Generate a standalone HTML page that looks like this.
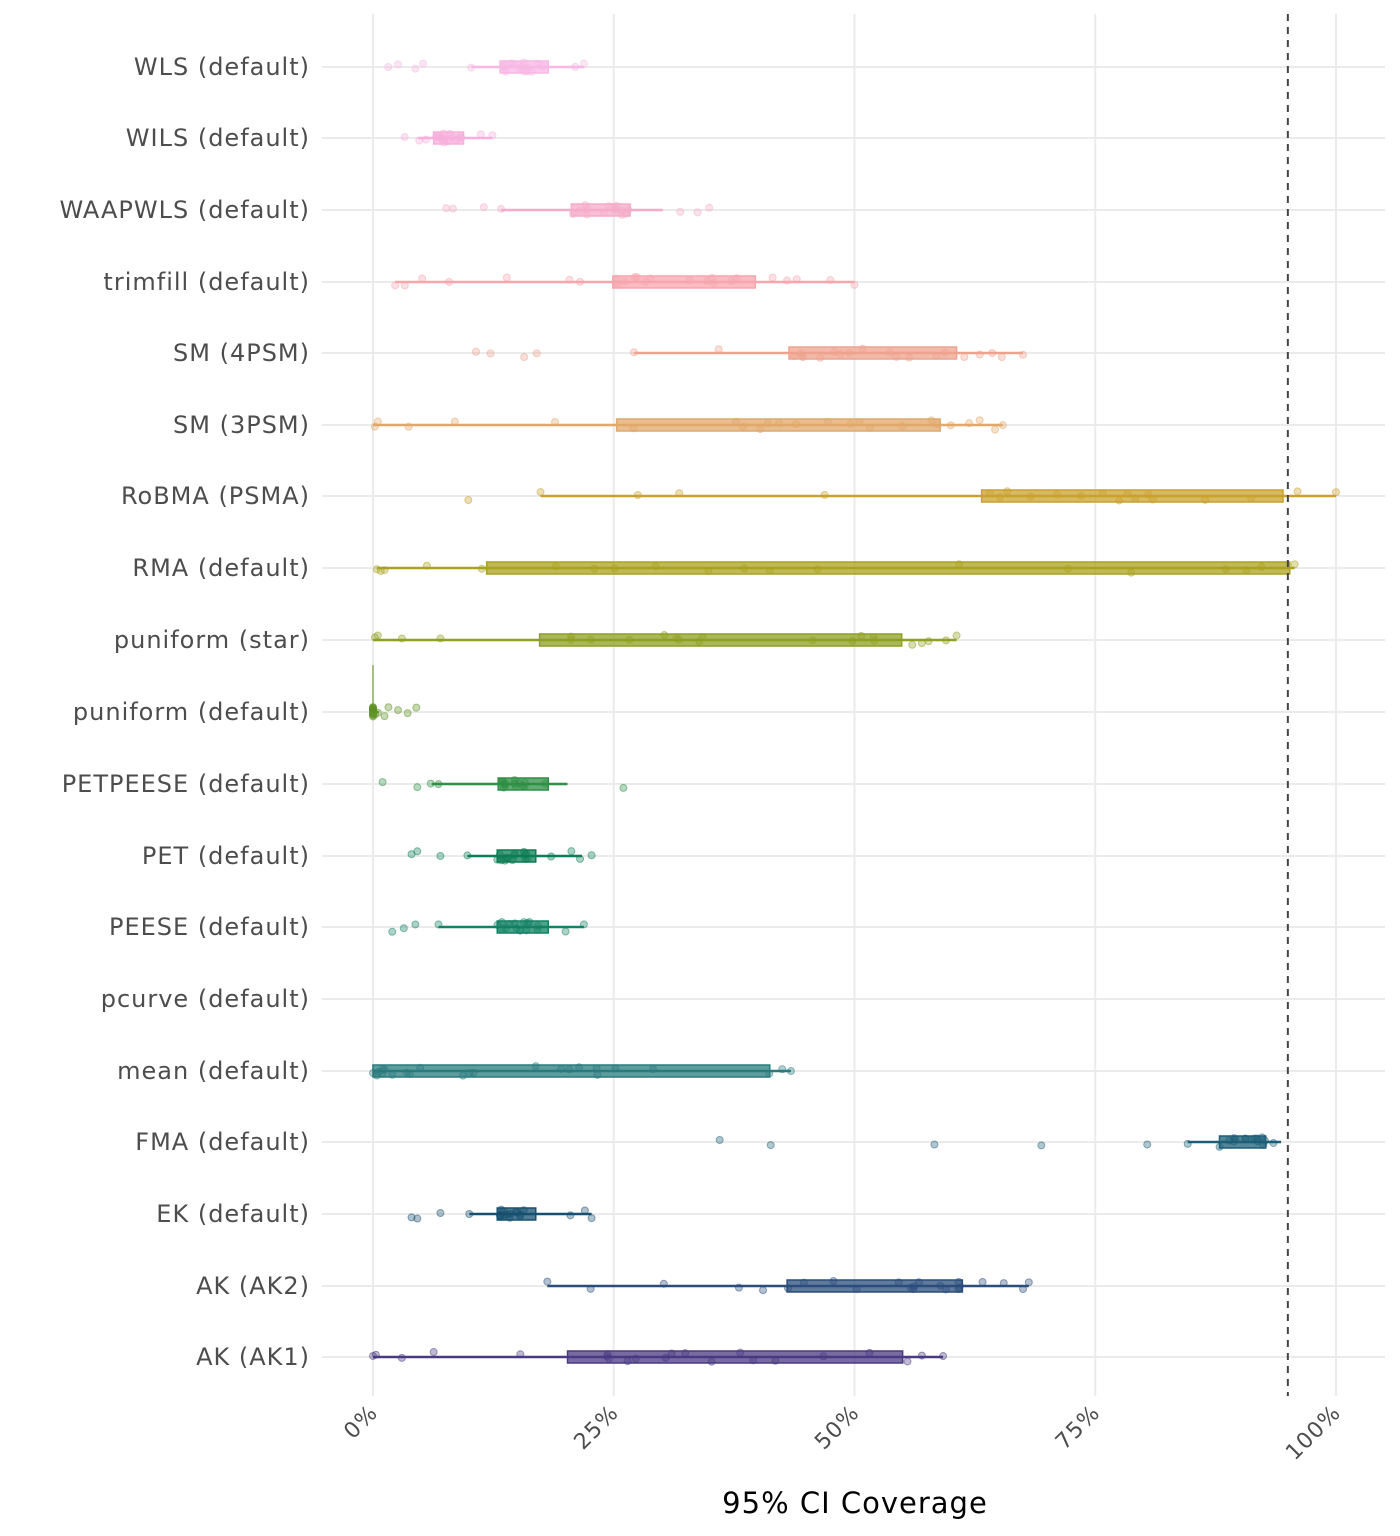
<!DOCTYPE html>
<html><head><meta charset="utf-8"><style>
html,body{margin:0;padding:0;background:#fff;}
svg{display:block;font-family:"DejaVu Sans","Liberation Sans",sans-serif;}
</style></head><body>
<svg id="s" width="1400" height="1536" xmlns="http://www.w3.org/2000/svg"></svg>
<script>
const X=p=>373+p*9.63;
const rows=[
["WLS (default)",67,"#f7b8e4",10.2,13.2,18.2,21.9,[1.6,2.6,4.4,5.2,10.2,21,21.9]],
["WILS (default)",138,"#f7b0dc",4.7,6.3,9.4,12.4,[3.3,4.8,5.5,11.2,12.4]],
["WAAPWLS (default)",210,"#f6abc8",13.3,20.6,26.7,30.1,[7.6,8.3,11.5,13.3,31.9,33.7,34.9]],
["trimfill (default)",282,"#f7a5ae",2.3,24.9,39.7,50,[2.3,3.3,5.1,7.9,13.9,20.4,21.5,41.5,43,44,47.5,50]],
["SM (4PSM)",353,"#eea38f",27.1,43.2,60.6,67.5,[10.7,12.2,15.7,17,27.1,35.9,61.4,63,64.3,65.3,67.5]],
["SM (3PSM)",425,"#e0a86b",0,25.3,58.9,65.4,[0.2,0.5,3.7,8.5,18.9,60,61.9,63,64.6,65.4]],
["RoBMA (PSMA)",496,"#caa12e",17.4,63.2,94.5,100,[9.9,17.4,27.5,31.8,46.9,96,100]],
["RMA (default)",568,"#aaa21f",0.4,11.8,95.2,95.7,[0.4,0.8,1.2,5.6,11.3,95.7]],
["puniform (star)",640,"#8fa022",0,17.3,54.9,60.6,[0.2,0.5,3,7,56,57,57.7,59.5,60.6]],
["puniform (default)",712,"#5e9325",0,0,0,0.6,[0,0.2,0.5,1.2,1.6,2.6,3.6,4.5]],
["PETPEESE (default)",784,"#2f8f45",6.1,13,18.2,20.2,[1,4.6,6,6.8,26]],
["PET (default)",856,"#0d7d55",9.8,12.9,16.9,21.7,[4,4.6,7,9.8,18.5,20.6,21.5,22.7]],
["PEESE (default)",927,"#148263",6.8,12.9,18.2,21.9,[2,3.2,4.4,6.8,20,21.9]],
["pcurve (default)",999,null],
["mean (default)",1071,"#2a7b7e",0,0,41.2,43.4,[0,0.4,1,2,3.5,10,16.9,21.4,42.5,43.4]],
["FMA (default)",1142,"#1d5f77",84.6,87.9,92.7,94.3,[36,41.3,58.3,69.4,80.4,84.6,93.5]],
["EK (default)",1214,"#175070",10,12.9,16.9,22.7,[4,4.6,7,10,20.5,22,22.7]],
["AK (AK2)",1286,"#2b4d7b",18.1,43,61.2,68.1,[18.1,22.6,30.2,38,40.5,63.3,65.5,67.5,68.1]],
["AK (AK1)",1357,"#4a3a81",0,20.2,55,59.2,[0,0.3,3,6.3,15.3,55.5,57,59.2]]
];
let h='<rect x="0" y="0" width="1400" height="1536" fill="#fff"/>';
rows.forEach(r=>h+=`<line x1="322" x2="1385" y1="${r[1]}" y2="${r[1]}" stroke="#ebebeb" stroke-width="2"/>`);
[0,25,50,75,100].forEach(p=>h+=`<line x1="${X(p)}" x2="${X(p)}" y1="14" y2="1396" stroke="#ebebeb" stroke-width="2"/>`);
let seed=7;const rnd=()=>{seed=(seed*9301+49297)%233280;return seed/233280;};
rows.forEach(r=>{
 const y=r[1];
 h+=`<text x="310" y="${y+8}" text-anchor="end" font-size="24" letter-spacing="1" fill="#4d4d4d">${r[0]}</text>`;
 if(!r[2])return;
 const c=r[2];
 h+=`<line x1="${X(r[3])}" x2="${X(r[6])}" y1="${y}" y2="${y}" stroke="${c}" stroke-width="2.5"/>`;
 if(r[5]>r[4]) h+=`<rect x="${X(r[4])}" y="${y-6}" width="${X(r[5])-X(r[4])}" height="12" fill="${c}" fill-opacity="0.75" stroke="${c}" stroke-width="1.5"/>`;
 let pts=r[7].slice();
 for(let i=0;i<14;i++)pts.push(r[4]+(r[5]-r[4])*rnd());
 pts.forEach(p=>{const yy=y+(rnd()-0.5)*10;
  h+=`<circle cx="${X(p)}" cy="${yy}" r="3.5" fill="${c}" fill-opacity="0.35" stroke="${c}" stroke-opacity="0.5" stroke-width="1"/>`;});
});
h+=`<line x1="373" x2="373" y1="665" y2="712" stroke="#5e9325" stroke-width="1"/>`;
h+=`<line x1="${X(95)}" x2="${X(95)}" y1="14" y2="1396" stroke="#444" stroke-width="2" stroke-dasharray="7,6"/>`;
[["0%",0],["25%",25],["50%",50],["75%",75],["100%",100]].forEach(t=>{
 const x=X(t[1]);
 h+=`<text x="${x+6}" y="1414" text-anchor="end" font-size="22" letter-spacing="1" fill="#4d4d4d" transform="rotate(-45 ${x+6} 1414)">${t[0]}</text>`;
});
h+=`<text x="855" y="1513" text-anchor="middle" font-size="29" letter-spacing="1" fill="#000">95% CI Coverage</text>`;
document.getElementById('s').innerHTML=h;
</script>
</body></html>
